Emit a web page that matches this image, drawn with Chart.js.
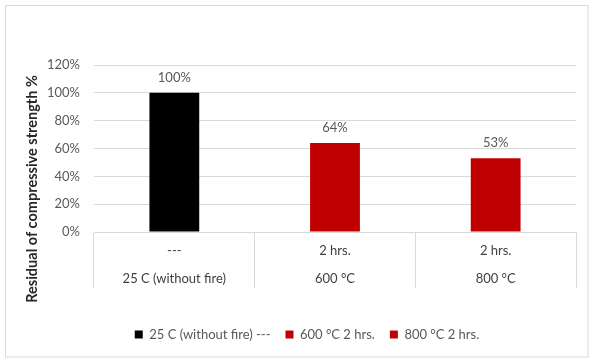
<!DOCTYPE html>
<html>
<head>
<meta charset="utf-8">
<script src="https://cdn.jsdelivr.net/npm/chart.js@4.4.1/dist/chart.umd.min.js"></script>
<style>
  html, body { margin: 0; padding: 0; background: #fff; }
  #wrap { width: 589px; height: 358px; position: relative; }
</style>
</head>
<body>
<div id="wrap"><canvas id="strength-chart"></canvas></div>
<script>
// residual strength after fire exposure
const heatLevels = ['25 C (without fire)', '600 °C', '800 °C'];
const exposureTimes = ['---', '2 hrs.', '2 hrs.'];
const residualStrength = [100, 64, 53];
const barColors = ['#000000', '#C00000', '#C00000'];
const yTickStep = 20;
const yMax = 120;

const FONT = 'Lato, "Open Sans", sans-serif';

// light frame round the whole chart
const framePlugin = {
    id: 'frame',
    beforeDraw(chart) {
        const ctx = chart.ctx;
        ctx.save();
        ctx.strokeStyle = '#d9d9d9';
        ctx.lineWidth = 1;
        ctx.strokeRect(5.5, 5.5, chart.width - 6.5, chart.height - 6.5);
        ctx.restore();
    }
};

// value labels over each bar
const valueLabels = {
    id: 'valueLabels',
    afterDatasetsDraw(chart) {
        const ctx = chart.ctx;
        const meta = chart.getDatasetMeta(0);
        ctx.save();
        ctx.font = '13px ' + FONT;
        ctx.fillStyle = '#595959';
        ctx.textAlign = 'center';
        ctx.textBaseline = 'middle';
        meta.data.forEach(function (bar, i) {
            ctx.fillText(residualStrength[i] + '%', bar.x, bar.y - 15);
        });
        ctx.restore();
    }
};

// y axis title, centred over plot plus category rows
const yTitle = {
    id: 'yTitle',
    afterDraw(chart) {
        const ctx = chart.ctx;
        const x = chart.scales.x;
        const mid = (chart.chartArea.top + x.bottom) / 2;
        ctx.save();
        ctx.translate(32, mid);
        ctx.rotate(-Math.PI / 2);
        ctx.font = 'bold 14.5px ' + FONT;
        ctx.fillStyle = '#262626';
        ctx.textAlign = 'center';
        ctx.textBaseline = 'middle';
        ctx.fillText('Residual of compressive strength %', 0, 0);
        ctx.restore();
    }
};

const ctx = document.getElementById('strength-chart').getContext('2d');
new Chart(ctx, {
    type: 'bar',
    data: {
        labels: heatLevels.map((h, i) => [exposureTimes[i], h]),
        datasets: [{
            data: residualStrength,
            backgroundColor: barColors,
            borderWidth: 0,
            categoryPercentage: 1,
            barPercentage: 0.31
        }]
    },
    options: {
        responsive: true,
        maintainAspectRatio: false,
        animation: false,
        // left padding keeps the title strip clear and centres the legend under the plot
        layout: { padding: { top: 65, right: 13, bottom: 7, left: 38 } },
        plugins: {
            tooltip: { enabled: false },
            legend: {
                position: 'bottom',
                onClick: null,
                labels: {
                    boxWidth: 8,
                    boxHeight: 8,
                    padding: 15,
                    color: '#595959',
                    font: { family: FONT, size: 13 },
                    generateLabels: () => heatLevels.map((h, i) => ({
                        text: h + ' ' + exposureTimes[i],
                        fillStyle: barColors[i],
                        strokeStyle: barColors[i],
                        lineWidth: 0,
                        fontColor: '#595959',
                        hidden: false,
                        index: i
                    }))
                }
            }
        },
        scales: {
            x: {
                afterFit(scale) { scale.height = 81; },
                grid: {
                    offset: true,
                    drawOnChartArea: false,
                    drawTicks: true,
                    tickLength: 56,
                    color: '#d9d9d9'
                },
                border: { display: true, color: '#d9d9d9' },
                ticks: {
                    padding: -50.6,
                    color: '#404040',
                    maxRotation: 0,
                    autoSkip: false,
                    font: { family: FONT, size: 13, lineHeight: 2.1 }
                }
            },
            y: {
                min: 0,
                max: yMax,
                afterFit(scale) { scale.width = 56; },
                grid: { color: '#d9d9d9', drawTicks: false },
                border: { display: false },
                ticks: {
                    stepSize: yTickStep,
                    padding: 14,
                    color: '#595959',
                    font: { family: FONT, size: 13 },
                    callback: v => v + '%'
                }
            }
        }
    },
    plugins: [framePlugin, valueLabels, yTitle]
});
</script>
</body>
</html>
